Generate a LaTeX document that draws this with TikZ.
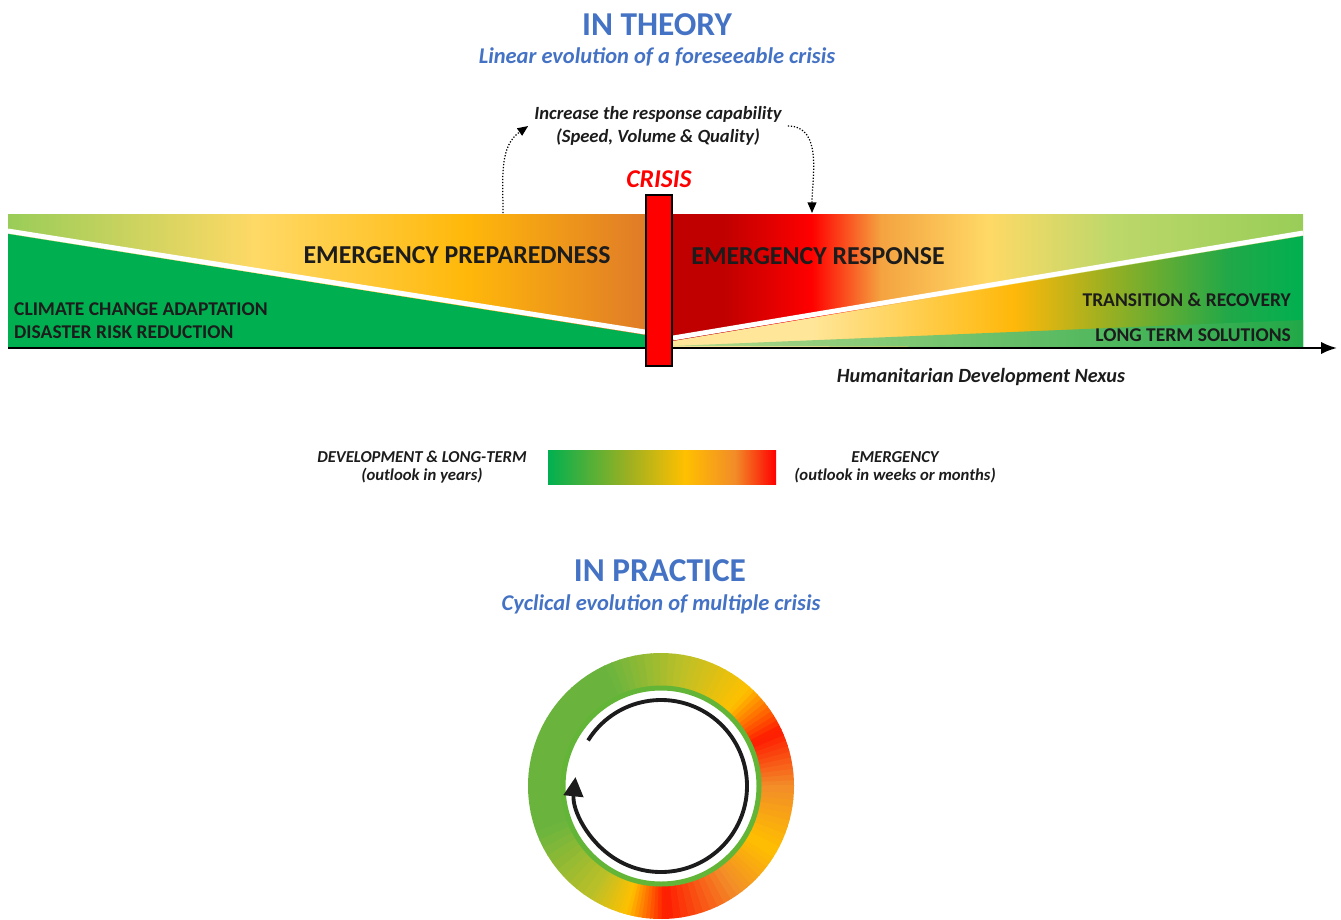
\documentclass[tikz,border=0pt]{standalone}
\usepackage{fontspec}
\setmainfont{Carlito}
\usetikzlibrary{arrows.meta,positioning}

\definecolor{titleblue}{HTML}{4472C4}
\definecolor{txtblack}{HTML}{1C1C1C}
\definecolor{lgreen}{HTML}{99CD58}
\definecolor{lyellow}{HTML}{FFD966}
\definecolor{amber}{HTML}{FFB80A}
\definecolor{dorange}{HTML}{E07B28}
\definecolor{dred}{HTML}{C00000}
\definecolor{bred}{HTML}{FF0000}
\definecolor{lorange}{HTML}{F4A340}
\definecolor{pgreen}{HTML}{BCD86A}
\definecolor{bgreen}{HTML}{00B050}
\definecolor{pyellow}{HTML}{FFE699}
\definecolor{olive}{HTML}{A0B020}
\definecolor{mgreen}{HTML}{22A848}
\definecolor{sgreen}{HTML}{B5D98C}
\definecolor{ringO}{HTML}{F28C28}
\definecolor{ringR}{HTML}{FF1A00}
\definecolor{ringA}{HTML}{FFC000}
\definecolor{ringY}{HTML}{BCC028}
\definecolor{ringG}{HTML}{6AB43E}
\definecolor{ringline}{HTML}{62B536}

% shadings: the middle 50bp are fitted to the path
\pgfdeclarehorizontalshading{prepshade}{100bp}{color(0bp)=(lgreen); color(25bp)=(lgreen);
  color(44.5bp)=(lyellow); color(61bp)=(amber); color(75bp)=(dorange); color(100bp)=(dorange)}
\pgfdeclarehorizontalshading{respshade}{100bp}{color(0bp)=(dred); color(25bp)=(dred);
  color(29bp)=(dred); color(36bp)=(bred); color(41.5bp)=(lorange); color(50bp)=(lyellow);
  color(60bp)=(pgreen); color(75bp)=(lgreen); color(100bp)=(lgreen)}
\pgfdeclarehorizontalshading{transshade}{100bp}{color(0bp)=(pyellow); color(25bp)=(pyellow);
  color(36bp)=(pyellow); color(52bp)=(amber); color(59bp)=(olive); color(69bp)=(mgreen);
  color(75bp)=(bgreen); color(100bp)=(bgreen)}
\pgfdeclarehorizontalshading{longshade}{100bp}{color(0bp)=(sgreen); color(25bp)=(sgreen);
  color(75bp)=(mgreen); color(100bp)=(mgreen)}
\pgfdeclarehorizontalshading{legendshade}{100bp}{color(0bp)=(bgreen); color(25bp)=(bgreen);
  color(43bp)=(olive); color(55bp)=(ringA); color(66bp)=(ringO); color(75bp)=(bred); color(100bp)=(bred)}

\begin{document}
\begin{tikzpicture}[x=0.02cm, y=0.02cm,
    title/.style={font=\fontsize{19}{22}\selectfont\bfseries, text=titleblue},
    subtitle/.style={font=\fontsize{12.8}{15}\selectfont\bfseries\itshape, text=titleblue},
    bandlbl/.style={font=\fontsize{14.7}{17}\selectfont\bfseries, text=txtblack},
    sidelbl/.style={font=\fontsize{11.1}{13}\selectfont\bfseries, text=txtblack},
    notelbl/.style={font=\fontsize{10.6}{13.5}\selectfont\bfseries\itshape, text=txtblack, align=center},
    legendlbl/.style={font=\fontsize{9.5}{10.5}\selectfont\bfseries\itshape, text=txtblack, align=center},
    dotarrow/.style={densely dotted, line width=0.7pt, -{Triangle[length=6pt,width=5pt]}},
    crisisbar/.style={draw=black, line width=1.4pt, fill=bred, minimum width=0.52cm, minimum height=3.42cm, inner sep=0pt}]
    \useasboundingbox (0,0) rectangle (1341,-919);
    %% titles
    \node[title] (theory) at (657,-25) {IN THEORY};
    \node[subtitle] (theorysub) at (657,-57) {Linear evolution of a foreseeable crisis};
    %% band, left half
    \shade[shading=prepshade] (8,-214) rectangle (645,-348);
    \fill[bgreen] (8,-234) -- (645,-335) -- (645,-348) -- (8,-348) -- cycle;
    \draw[white, line width=2.8pt] (8,-231) -- (645,-332);
    %% band, right half
    \shade[shading=respshade] (673,-214) rectangle (1303,-348);
    \shade[shading=transshade] (673,-341) -- (1303,-236) -- (1303,-348) -- (673,-348) -- cycle;
    \shade[shading=longshade] (673,-346) -- (1303,-320) -- (1303,-348) -- cycle;
    \draw[white, line width=2.8pt] (673,-338) -- (1303,-233);
    \draw[line width=1.3pt, -{Latex[length=9pt,width=7pt]}] (8,-348) -- (1337,-348);
    %% crisis
    \node[crisisbar] (crisis) at (659,-280.5) {};
    \node[font=\fontsize{14.6}{17}\selectfont\bfseries\itshape, text=bred, above=0pt of crisis] (crisislbl) {CRISIS};
    \node[notelbl] (cap) at (658,-126) {Increase the response capability\\(Speed, Volume \& Quality)};
    \coordinate (prepfoot) at (503,-213);
    \coordinate (respfoot) at (812,-213);
    \draw[dotarrow] (prepfoot) to[out=90, in=215] (cap.west);
    \draw[dotarrow] (cap.east) to[out=0, in=90] (respfoot);
    %% band labels
    \node[bandlbl] (prep) at (457,-255) {EMERGENCY PREPAREDNESS};
    \node[bandlbl] (resp) at (818,-256) {EMERGENCY RESPONSE};
    \node[sidelbl, anchor=west] (cca) at (8,-309) {CLIMATE CHANGE ADAPTATION};
    \node[sidelbl, anchor=west] (drr) at (8,-332) {DISASTER RISK REDUCTION};
    \node[sidelbl, anchor=east] (trans) at (1297,-300) {TRANSITION \& RECOVERY};
    \node[sidelbl, anchor=east] (lts) at (1297,-335) {LONG TERM SOLUTIONS};
    \node[font=\fontsize{11.5}{13}\selectfont\bfseries\itshape, text=txtblack] (nexus) at (981,-377) {Humanitarian Development Nexus};
    %% legend
    \shade[shading=legendshade] (548,-450) rectangle (776,-484);
    \node[legendlbl] (devlbl) at (422,-467) {DEVELOPMENT \& LONG-TERM\\(outlook in years)};
    \node[legendlbl] (emerlbl) at (895,-467) {EMERGENCY\\(outlook in weeks or months)};
    %% in practice
    \node[title] (practice) at (660,-571) {IN PRACTICE};
    \node[subtitle] (practicesub) at (661,-604) {Cyclical evolution of multiple crisis};
    \begin{scope}[shift={(661,-786)}]
        \foreach \a/\b/\ca/\cb in {0/25/ringO/ringR, 25/48/ringR/ringA, 48/80/ringA/ringY,
            80/115/ringY/ringG, 115/200/ringG/ringG, 200/238/ringG/ringY, 238/255/ringY/ringA,
            255/272/ringA/ringR, 272/305/ringR/ringO, 305/330/ringO/ringA, 330/360/ringA/ringO}{
            \foreach \i in {0,...,9}{
                \pgfmathsetmacro\s{\a+(\b-\a)*\i/10}
                \pgfmathsetmacro\e{\a+(\b-\a)*(\i+1)/10+0.4}
                \pgfmathtruncatemacro\p{\i*10+5}
                \fill[\cb!\p!\ca] (\s:133) arc[start angle=\s, end angle=\e, radius=133]
                    -- (\e:100) arc[start angle=\e, end angle=\s, radius=100] -- cycle;
            }
        }
        \draw[ringline, line width=0.1cm] (0,0) circle[radius=98];
        \draw[txtblack, line width=2.2pt, -{Triangle[length=11pt,width=11pt]}]
            (148:86) arc[start angle=148, end angle=-186, radius=86];
    \end{scope}
\end{tikzpicture}
\end{document}
